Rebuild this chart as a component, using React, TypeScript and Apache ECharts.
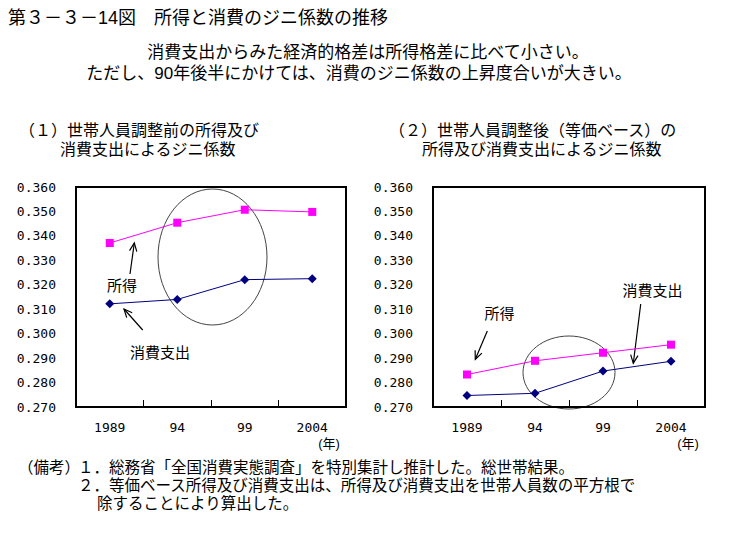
import React, { useEffect, useRef } from "react";
import * as echarts from "echarts";

const years = ["1989", "94", "99", "2004"];
const incomeBefore = [0.3371, 0.3454, 0.3507, 0.3498];
const consumptionBefore = [0.3122, 0.314, 0.3221, 0.3225];
const incomeAfter = [0.2833, 0.2889, 0.2922, 0.2955];
const consumptionAfter = [0.2747, 0.2756, 0.2847, 0.2887];
const yMin = 0.27;
const yMax = 0.36;
const yStep = 0.01;

const titleText = "第３－３－14図　所得と消費のジニ係数の推移";
const subtitleLines = [
  "消費支出からみた経済的格差は所得格差に比べて小さい。",
  "ただし、90年後半にかけては、消費のジニ係数の上昇度合いが大きい。",
];
const heading1 = ["（１）世帯人員調整前の所得及び", "消費支出によるジニ係数"];
const heading2 = ["（２）世帯人員調整後（等価ベース）の", "所得及び消費支出によるジニ係数"];
const notesLabel = "（備考）";
const notes = [
  "１．総務省「全国消費実態調査」を特別集計し推計した。総世帯結果。",
  "２．等価ベース所得及び消費支出は、所得及び消費支出を世帯人員数の平方根で",
  "除することにより算出した。",
];

const JP = '"Liberation Sans", "Noto Sans CJK JP", sans-serif';
const MONO = '"DejaVu Sans Mono", monospace';

function txt(text: string, x: number, y: number, size: number, align: string = "left", font: string = JP) {
  return {
    type: "text",
    x,
    y,
    style: { text, fontSize: size, fontFamily: font, fill: "#000", align, verticalAlign: "middle" },
  };
}

function arrow(x1: number, y1: number, x2: number, y2: number) {
  const ang = Math.atan2(y2 - y1, x2 - x1);
  const L = 9;
  const a = 0.42;
  const p1 = [x2 - L * Math.cos(ang - a), y2 - L * Math.sin(ang - a)];
  const p2 = [x2 - L * Math.cos(ang + a), y2 - L * Math.sin(ang + a)];
  return [
    { type: "line", shape: { x1, y1, x2, y2 }, style: { stroke: "#000", lineWidth: 1.2 } },
    { type: "polyline", shape: { points: [p1, [x2, y2], p2] }, style: { stroke: "#000", lineWidth: 1.2, fill: null } },
  ];
}

function makeY(gridIndex: number) {
  return {
    type: "value",
    gridIndex,
    min: yMin,
    max: yMax,
    interval: yStep,
    splitLine: { show: false },
    axisLine: { show: false },
    axisTick: { show: false },
    axisLabel: {
      margin: 20,
      fontSize: 13,
      fontFamily: MONO,
      color: "#000",
      formatter: (v: number) => v.toFixed(3),
    },
  };
}

function makeX(gridIndex: number) {
  return {
    type: "category",
    gridIndex,
    data: years,
    boundaryGap: true,
    axisLine: { show: true, lineStyle: { color: "#000", width: 2 } },
    axisTick: { show: true, inside: true, length: 7, lineStyle: { color: "#000", width: 1 } },
    axisLabel: { margin: 14, fontSize: 13, fontFamily: MONO, color: "#000" },
    splitLine: { show: false },
  };
}

export default function App() {
  const ref = useRef<HTMLDivElement>(null);
  useEffect(() => {
    if (!ref.current) return;
    const chart = echarts.init(ref.current, null, { renderer: "svg" });
    const option: any = {
      animation: false,
      backgroundColor: "#fff",
      grid: [
        { left: 76, top: 187, width: 270, height: 220, show: true, borderColor: "#000", borderWidth: 2, backgroundColor: "transparent" },
        { left: 433, top: 187, width: 272, height: 220, show: true, borderColor: "#000", borderWidth: 2, backgroundColor: "transparent" },
      ],
      xAxis: [makeX(0), makeX(1)],
      yAxis: [makeY(0), makeY(1)],
      series: [
        {
          name: "所得",
          type: "line",
          xAxisIndex: 0,
          yAxisIndex: 0,
          data: incomeBefore,
          symbol: "rect",
          symbolSize: 8,
          lineStyle: { color: "#ff00ff", width: 1 },
          itemStyle: { color: "#ff00ff" },
        },
        {
          name: "消費支出",
          type: "line",
          xAxisIndex: 0,
          yAxisIndex: 0,
          data: consumptionBefore,
          symbol: "diamond",
          symbolSize: 9,
          lineStyle: { color: "#000080", width: 1 },
          itemStyle: { color: "#000080" },
        },
        {
          name: "所得",
          type: "line",
          xAxisIndex: 1,
          yAxisIndex: 1,
          data: incomeAfter,
          symbol: "rect",
          symbolSize: 8,
          lineStyle: { color: "#ff00ff", width: 1 },
          itemStyle: { color: "#ff00ff" },
        },
        {
          name: "消費支出",
          type: "line",
          xAxisIndex: 1,
          yAxisIndex: 1,
          data: consumptionAfter,
          symbol: "diamond",
          symbolSize: 9,
          lineStyle: { color: "#000080", width: 1 },
          itemStyle: { color: "#000080" },
        },
      ],
      graphic: [
        txt(titleText, 8, 18, 18),
        txt(subtitleLines[0], 368, 52, 17, "center"),
        txt(subtitleLines[1], 359, 73, 17, "center"),
        txt(heading1[0], 19, 130.5, 16),
        txt(heading1[1], 60, 149.5, 16),
        txt(heading2[0], 389, 130.5, 16),
        txt(heading2[1], 422, 149.5, 16),
        txt("(年)", 329, 443, 13, "center"),
        txt("(年)", 688, 443, 13, "center"),
        txt(notesLabel, 18, 467.5, 15.5),
        txt(notes[0], 78, 467.5, 15.5),
        txt(notes[1], 78, 485.5, 15.5),
        txt(notes[2], 97, 503.5, 15.5),
        {
          type: "ellipse",
          shape: { cx: 212.5, cy: 257, rx: 54.5, ry: 68 },
          style: { stroke: "#444", lineWidth: 1, fill: null },
        },
        {
          type: "ellipse",
          shape: { cx: 569, cy: 372.5, rx: 46, ry: 36.5 },
          style: { stroke: "#444", lineWidth: 1, fill: null },
        },
        txt("所得", 122, 285, 15, "center"),
        ...arrow(130, 274, 134.3, 243),
        txt("消費支出", 160, 352, 15, "center"),
        ...arrow(142.7, 330, 124, 309),
        txt("所得", 499.5, 313, 15, "center"),
        ...arrow(487.3, 331, 475.3, 359.3),
        txt("消費支出", 652.5, 290, 15, "center"),
        ...arrow(640.7, 304, 633.3, 363.3),
      ],
    };
    chart.setOption(option);
    return () => chart.dispose();
  }, []);
  return (
    <div
      ref={ref}
      style={{ position: "absolute", left: 0, top: 0, width: 734, height: 542, background: "#fff" }}
    />
  );
}
